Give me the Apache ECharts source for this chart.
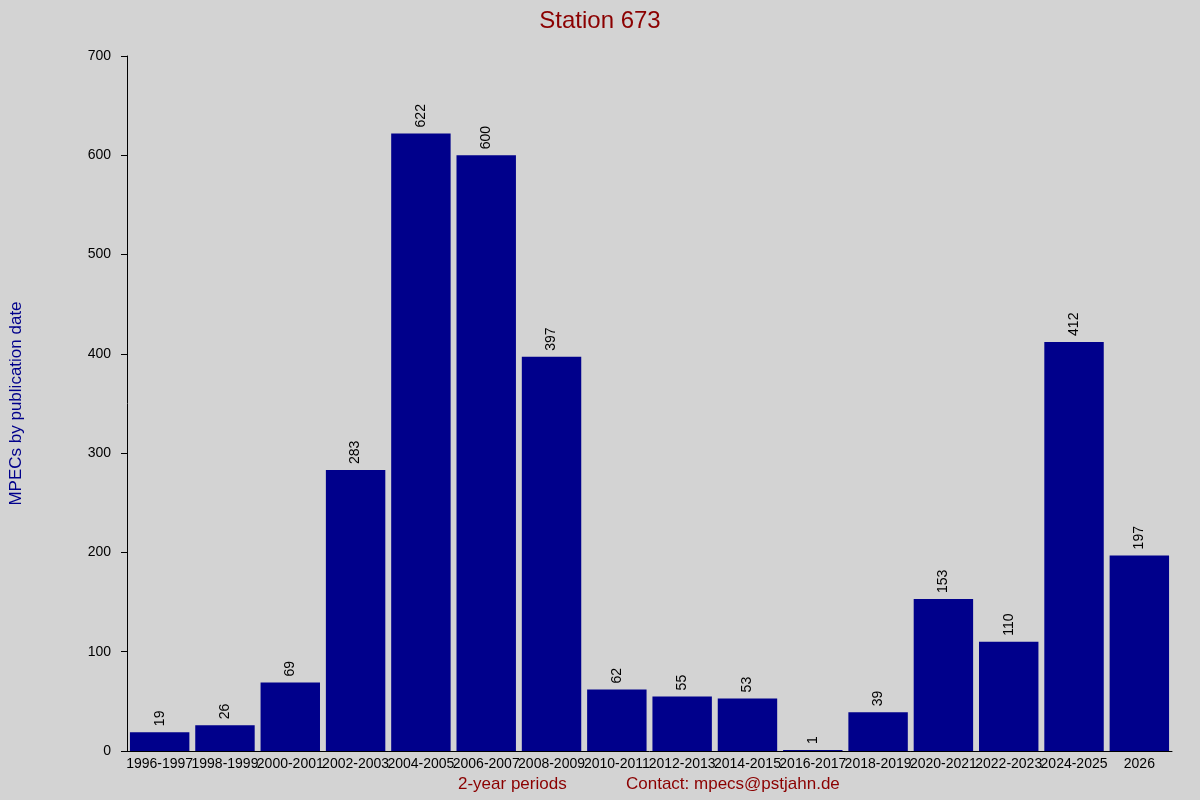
<!DOCTYPE html>
<html><head><meta charset="utf-8">
<script src="https://cdn.jsdelivr.net/npm/echarts@6/dist/echarts.min.js"></script>
<style>html,body{margin:0;padding:0;background:#d3d3d3}#c{width:1200px;height:800px}</style>
</head><body><div id="c"></div>
<script>
const categories = ["1996-1997","1998-1999","2000-2001","2002-2003","2004-2005","2006-2007","2008-2009","2010-2011","2012-2013","2014-2015","2016-2017","2018-2019","2020-2021","2022-2023","2024-2025","2026"];
const values = [19,26,69,283,622,600,397,62,55,53,1,39,153,110,412,197];
const yTicks = {min:0,max:700,interval:100};
const chart = echarts.init(document.getElementById('c'));
chart.setOption({
  backgroundColor:'#d3d3d3',
  animation:false,
  title:{text:'Station 673',left:'center',top:4,textStyle:{color:'#8b0000',fontSize:24,fontWeight:'normal',fontFamily:'Liberation Sans'}},
  graphic:[
    {type:'text',left:458,top:776,style:{text:'2-year periods',fill:'#8b0000',font:'17px Liberation Sans'}},
    {type:'text',left:626,top:776,style:{text:'Contact: mpecs@pstjahn.de',fill:'#8b0000',font:'17px Liberation Sans'}}
  ],
  grid:{left:126,right:28,top:56,bottom:49},
  xAxis:{type:'category',data:categories,
    axisLine:{lineStyle:{color:'#000'}},axisTick:{show:false},
    axisLabel:{color:'#000',fontSize:14,fontFamily:'Liberation Sans',interval:0,margin:6}},
  yAxis:{type:'value',min:yTicks.min,max:yTicks.max,interval:yTicks.interval,
    name:'MPECs by publication date',nameLocation:'middle',nameGap:102,
    nameTextStyle:{color:'#00008b',fontSize:17,fontFamily:'Liberation Sans'},
    axisLine:{show:true,lineStyle:{color:'#000'}},axisTick:{show:true,length:6,lineStyle:{color:'#000'}},
    splitLine:{show:false},
    axisLabel:{color:'#000',fontSize:14,fontFamily:'Liberation Sans',margin:16}},
  series:[{type:'bar',data:values,barCategoryGap:'9%',
    itemStyle:{color:'#00008b'},
    label:{show:true,position:'top',rotate:90,align:'left',verticalAlign:'middle',distance:6,color:'#000',fontSize:14,fontFamily:'Liberation Sans'}}]
});
</script></body></html>
